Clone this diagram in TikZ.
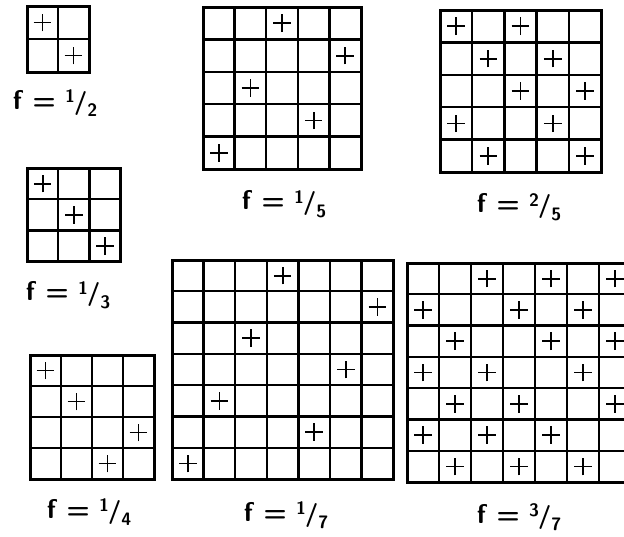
\documentclass[tikz,border=0pt]{standalone}
\usepackage{tikz}
\usetikzlibrary{calc}

\begin{document}
\begin{tikzpicture}[x=0.5pt,y=-0.5pt,
  cell/.style={line width=1.15pt},
  frame/.style={line width=1.5pt},
  plus/.style={line width=0.9pt},
  flabel/.style={font=\fontsize{13.5}{15}\selectfont\sffamily\bfseries}]
\useasboundingbox (0,0) rectangle (624,536);
\clip (0,0) rectangle (624,536);

% f = 1/2
\begin{scope}[shift={(27,6)},x=15.5pt,y=-16.5pt]
\draw[cell] (1,0) -- (1,2) (0,1) -- (2,1);
\draw[frame] (0,0) rectangle (2,2);
\foreach \r/\c in {0/0,1/1}
  \draw[plus] (\c+0.5,\r+0.5) +(-4.4pt,0) -- +(4.4pt,0) +(0,-4.4pt) -- +(0,4.4pt);
\end{scope}
\node[flabel] (fhalf) at (55,103) {f\hspace{0.4em}=\hspace{0.35em}\raisebox{0.55ex}{\small 1}\kern-0.5pt{\large/}\raisebox{-0.6ex}{\small 2}};

% f = 1/3
\begin{scope}[shift={(27,168)},x=15.65pt,y=-15.65pt]
\foreach \k in {1,2} {\draw[cell] (\k,0) -- (\k,3); \draw[cell] (0,\k) -- (3,\k);}
\draw[frame] (0,0) rectangle (3,3);
\foreach \r/\c in {0/0,1/1,2/2}
  \draw[plus] (\c+0.5,\r+0.5) +(-4.4pt,0) -- +(4.4pt,0) +(0,-4.4pt) -- +(0,4.4pt);
\end{scope}
\node[flabel] (fthird) at (68,295) {f\hspace{0.4em}=\hspace{0.35em}\raisebox{0.55ex}{\small 1}\kern-0.5pt{\large/}\raisebox{-0.6ex}{\small 3}};

% f = 1/4
\begin{scope}[shift={(30,355)},x=15.5pt,y=-15.5pt]
\foreach \k in {1,2,3} {\draw[cell] (\k,0) -- (\k,4); \draw[cell] (0,\k) -- (4,\k);}
\draw[frame] (0,0) rectangle (4,4);
\foreach \r/\c in {0/0,1/1,2/3,3/2}
  \draw[plus] (\c+0.5,\r+0.5) +(-4.4pt,0) -- +(4.4pt,0) +(0,-4.4pt) -- +(0,4.4pt);
\end{scope}
\node[flabel] (fquarter) at (89,512) {f\hspace{0.4em}=\hspace{0.35em}\raisebox{0.55ex}{\small 1}\kern-0.5pt{\large/}\raisebox{-0.6ex}{\small 4}};

% f = 1/5
\begin{scope}[shift={(203,7)},x=15.8pt,y=-16.2pt]
\foreach \k in {1,...,4} {\draw[cell] (\k,0) -- (\k,5); \draw[cell] (0,\k) -- (5,\k);}
\draw[frame] (0,0) rectangle (5,5);
\foreach \r/\c in {0/2,1/4,2/1,3/3,4/0}
  \draw[plus] (\c+0.5,\r+0.5) +(-4.4pt,0) -- +(4.4pt,0) +(0,-4.4pt) -- +(0,4.4pt);
\end{scope}
\node[flabel] (ffifth) at (284,204) {f\hspace{0.4em}=\hspace{0.35em}\raisebox{0.55ex}{\small 1}\kern-0.5pt{\large/}\raisebox{-0.6ex}{\small 5}};

% f = 2/5
\begin{scope}[shift={(440,10)},x=16.1pt,y=-16.2pt]
\foreach \k in {1,...,4} {\draw[cell] (\k,0) -- (\k,5); \draw[cell] (0,\k) -- (5,\k);}
\draw[frame] (0,0) rectangle (5,5);
\foreach \r/\c in {0/0,0/2,1/1,1/3,2/2,2/4,3/0,3/3,4/1,4/4}
  \draw[plus] (\c+0.5,\r+0.5) +(-4.4pt,0) -- +(4.4pt,0) +(0,-4.4pt) -- +(0,4.4pt);
\end{scope}
\node[flabel] (ftwofifths) at (519,207) {f\hspace{0.4em}=\hspace{0.35em}\raisebox{0.55ex}{\small 2}\kern-0.5pt{\large/}\raisebox{-0.6ex}{\small 5}};

% f = 1/7
\begin{scope}[shift={(172,260)},x=15.8pt,y=-15.65pt]
\foreach \k in {1,...,6} {\draw[cell] (\k,0) -- (\k,7); \draw[cell] (0,\k) -- (7,\k);}
\draw[frame] (0,0) rectangle (7,7);
\foreach \r/\c in {0/3,1/6,2/2,3/5,4/1,5/4,6/0}
  \draw[plus] (\c+0.5,\r+0.5) +(-4.4pt,0) -- +(4.4pt,0) +(0,-4.4pt) -- +(0,4.4pt);
\end{scope}
\node[flabel] (fseventh) at (286,515) {f\hspace{0.4em}=\hspace{0.35em}\raisebox{0.55ex}{\small 1}\kern-0.5pt{\large/}\raisebox{-0.6ex}{\small 7}};

% f = 3/7 (cut at the right edge)
\begin{scope}[shift={(407,263)},x=16pt,y=-15.65pt]
\foreach \k in {1,...,6} {\draw[cell] (\k,0) -- (\k,7); \draw[cell] (0,\k) -- (7,\k);}
\draw[frame] (0,0) rectangle (7,7);
\foreach \r/\c in {0/2,0/4,0/6,1/0,1/3,1/5,2/1,2/4,2/6,3/0,3/2,3/5,4/1,4/3,4/6,5/0,5/2,5/4,6/1,6/3,6/5}
  \draw[plus] (\c+0.5,\r+0.5) +(-4.4pt,0) -- +(4.4pt,0) +(0,-4.4pt) -- +(0,4.4pt);
\end{scope}
\node[flabel] (fthreesevenths) at (519,517) {f\hspace{0.4em}=\hspace{0.35em}\raisebox{0.55ex}{\small 3}\kern-0.5pt{\large/}\raisebox{-0.6ex}{\small 7}};
\end{tikzpicture}
\end{document}
